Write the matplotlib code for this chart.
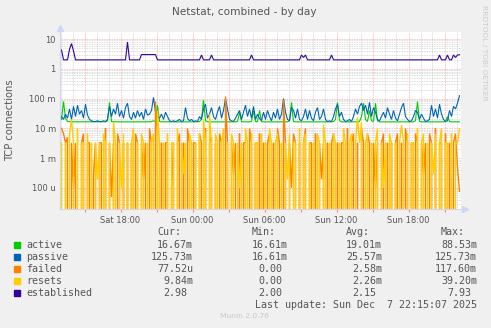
import numpy as np
import pandas as pd
import matplotlib
matplotlib.use("Agg")
from matplotlib import pyplot as plt
import matplotlib.dates as mdates
from matplotlib.ticker import FixedLocator, FixedFormatter, FuncFormatter

# 10 minute samples, values in milli (except established)
t_end = "2025-12-07 22:15"
n_samples = 200

active_m = [
    20, 80, 22, 17, 16.7, 16.6, 16.6, 16.7, 16.6, 16.6, 16.6, 16.7, 16.6, 16.6, 16.6, 16.6, 16.7, 16.6, 16.6, 16.6,
    16.6, 16.6, 16.7, 18, 75, 17, 16.6, 16.6, 16.7, 16.6, 16.6, 16.6, 16.6, 16.7, 16.6, 16.6, 16.6, 16.6, 16.7, 16.6,
    16.6, 16.6, 16.7, 16.6, 16.6, 17, 18, 17, 60, 17, 16.6, 16.6, 16.6, 16.7, 16.6, 16.6, 16.6, 16.6, 16.6, 16.7,
    16.6, 16.6, 16.6, 16.6, 16.7, 16.6, 16.6, 16.6, 16.6, 17, 20, 88.53, 18, 16.6, 16.6, 16.7, 16.6, 16.6, 16.6, 16.6,
    16.6, 16.6, 16.7, 16.6, 16.6, 16.6, 16.6, 16.6, 17, 35, 17, 16.6, 16.6, 16.6, 16.6, 17, 40, 17, 16.6, 40,
    17, 16.6, 16.6, 16.6, 16.7, 16.6, 16.6, 16.6, 16.6, 16.6, 16.6, 16.7, 16.6, 16.6, 18, 75, 17, 16.6, 16.6, 16.6,
    16.6, 16.6, 16.7, 16.6, 16.6, 16.6, 16.6, 16.6, 16.6, 16.7, 16.6, 16.6, 16.6, 16.6, 16.6, 16.6, 17, 20, 75, 18,
    16.6, 16.6, 16.6, 16.7, 16.6, 16.6, 16.6, 16.6, 16.6, 17, 25, 70, 20, 17, 40, 18, 17, 70, 18, 16.6,
    16.6, 16.6, 16.7, 16.6, 16.6, 16.6, 16.6, 16.6, 16.6, 16.6, 16.7, 16.6, 16.6, 16.6, 16.6, 16.6, 16.6, 18, 80, 17,
    16.6, 16.6, 16.6, 16.7, 16.6, 16.6, 16.6, 16.6, 16.6, 16.6, 16.7, 16.6, 17, 25, 17, 16.6, 16.6, 16.6, 16.6, 16.67,
]

passive_m = [
    25, 20, 30, 22, 45, 20, 55, 25, 60, 30, 40, 22, 65, 28, 20, 18, 17, 17, 18, 17,
    17, 18, 17, 20, 55, 25, 45, 30, 70, 25, 40, 22, 50, 70,
    25, 20, 35, 22, 40, 25, 35, 20, 45, 28, 30, 40, 110, 35, 25, 22, 30, 20, 35, 25,
    18, 17, 18, 17, 18, 20, 17, 18, 50, 22, 18, 20, 17,
    18, 17, 25, 20, 45, 65, 22, 30, 50, 25, 20, 35, 55, 22, 40, 100, 45, 20, 18, 17,
    22, 30, 40, 20, 35, 60, 25, 45, 22, 55, 20, 30, 22, 18,
    35, 20, 40, 25, 18, 35, 22, 45, 20, 30, 100, 35, 20, 18, 50, 40, 22, 45, 20, 18,
    25, 45, 20, 40, 22, 18, 35, 50, 20, 25, 45, 20, 17,
    18, 17, 25, 45, 65, 25, 35, 20, 17, 18, 20, 17, 25, 45, 30, 55, 70, 40, 60, 30,
    75, 25, 50, 35, 20, 18, 25, 35, 22, 50, 30, 20, 40, 22,
    18, 30, 50, 70, 25, 20, 17, 18, 25, 40, 35, 20, 30, 22, 17, 18, 20, 60, 25, 45,
    22, 65, 30, 20, 17, 18, 40, 25, 55, 45, 70, 125.73,
]

failed_m = [
    10, 6.7, 3.3, 5, 0, 3.3, 0.1, 3.3, 0, 0, 3.3, 6.7, 0, 3.3, 3.3, 0, 0.3, 3.3, 0, 3.3,
    3.3, 0, 10, 0, 3.3, 0.05, 3.3, 0, 6.7, 3.3, 0, 3.3, 0, 3.3,
    0, 3.3, 0, 6.7, 3.3, 0, 3.3, 0.2, 3.3, 0, 10, 3.3, 0, 80, 6.7, 0, 3.3, 0, 3.3, 3.3,
    0, 0.1, 3.3, 0, 3.3, 6.7, 0, 3.3, 0, 10, 3.3, 0, 3.3,
    3.3, 0, 6.7, 3.3, 0, 10, 0, 3.3, 5, 0, 3.3, 0, 6.7, 3.3, 0, 117.6, 3.3, 0, 3.3, 0.3,
    3.3, 0, 6.7, 0, 3.3, 3.3, 0, 10, 3.3, 0, 3.3, 0, 6.7, 0,
    3.3, 0, 3.3, 6.7, 0, 3.3, 0, 10, 3.3, 0, 90, 3.3, 0, 3.3, 0.1, 6.7, 3.3, 0, 3.3, 0,
    3.3, 10, 0, 3.3, 3.3, 0, 6.7, 0, 3.3, 0.2, 3.3, 0, 3.3,
    0, 3.3, 6.7, 0, 3.3, 0, 3.3, 3.3, 0, 10, 0, 3.3, 6.7, 0, 3.3, 0, 10, 3.3, 0, 6.7,
    3.3, 0, 3.3, 0.1, 3.3, 0, 3.3, 6.7, 0, 3.3, 0, 3.3, 0, 3.3,
    6.7, 0, 3.3, 0, 10, 3.3, 0, 3.3, 0, 6.7, 3.3, 0, 3.3, 0.3, 3.3, 0, 6.7, 3.3, 0, 10,
    0, 3.3, 3.3, 0, 6.7, 0, 3.3, 0, 3.3, 6.7, 0.5, 0.0775,
]

resets_m = [
    3.3, 0, 3.3, 0, 6.7, 20, 3.3, 0, 10, 0, 3.3, 3.3, 0, 6.7, 0, 3.3, 0, 3.3, 0.2, 3.3,
    0, 6.7, 3.3, 0, 3.3, 0, 16, 3.3, 0, 3.3, 0.1, 6.7, 0, 3.3,
    0, 3.3, 10, 0, 3.3, 0, 6.7, 3.3, 0, 3.3, 0, 3.3, 6.7, 0, 39.2, 3.3, 0, 3.3, 0, 6.7,
    0, 3.3, 3.3, 0, 10, 0, 3.3, 0.3, 3.3, 0, 6.7, 3.3, 0,
    3.3, 0, 6.7, 0, 20, 3.3, 0, 30, 3.3, 0, 6.7, 3.3, 0, 3.3, 10, 0, 3.3, 0, 6.7, 3.3,
    0, 3.3, 0.1, 3.3, 0, 10, 3.3, 0, 6.7, 0, 3.3, 3.3, 0, 6.7,
    0, 3.3, 0, 10, 3.3, 0, 3.3, 6.7, 0, 3.3, 0, 3.3, 0.2, 6.7, 0, 3.3, 3.3, 0, 10, 0,
    3.3, 6.7, 0, 3.3, 0, 3.3, 0, 6.7, 3.3, 0, 13, 3.3, 0,
    3.3, 0, 6.7, 3.3, 0, 3.3, 0, 10, 3.3, 0, 3.3, 6.7, 0, 3.3, 23, 3.3, 16, 0, 3.3, 6.7,
    0, 3.3, 0, 3.3, 10, 0, 3.3, 0.1, 3.3, 0, 6.7, 3.3, 0, 3.3,
    0, 3.3, 13, 3.3, 0, 6.7, 0, 3.3, 3.3, 0, 10, 0, 3.3, 6.7, 0, 3.3, 0, 3.3, 0.3, 6.7,
    0, 3.3, 10, 0, 3.3, 3.3, 0, 6.7, 0, 3.3, 3.3, 9.84,
]

established = [
    4.3, 2, 2, 2, 4.5, 7.0, 4.0, 2, 2, 2, 2, 2, 2, 2, 2, 2, 2, 2, 2, 2,
    2, 2, 2, 2, 2, 2, 2, 2, 2, 2, 2, 2, 2, 7.93, 2, 2, 2, 2, 2, 2,
    3, 3, 3, 3, 3, 3, 3, 3, 2, 2, 2, 2, 2, 2, 2, 2, 2, 2, 2, 2,
    2, 2, 2, 2, 2, 2, 2, 2, 2, 2, 2.9, 2, 2, 2, 2, 2.9, 2, 2, 2, 2,
    2, 2, 2, 2, 2, 2, 2, 2, 2, 2, 2, 2, 2, 2, 2, 2.9, 2, 2, 2, 2,
    2, 2, 2, 2, 2, 2, 2, 2, 2, 2, 2, 2, 2, 2, 2, 2, 2, 2, 2, 2,
    2.9, 2.4, 2.9, 2, 2, 2, 2, 2, 2, 2, 2, 2, 2, 2, 2, 2.9, 2, 2, 2, 2,
    2, 2, 2, 2, 2, 2, 2, 2, 2, 2, 2, 2, 2, 2, 2, 2, 2, 2, 2, 2,
    2, 2, 2, 2, 2, 2, 2, 2, 2, 2, 2, 2, 2, 2, 2, 2, 2, 2, 2, 2,
    2, 2, 2, 2, 2, 2, 2, 2, 2, 2.9, 2, 2, 2, 2.9, 2, 2, 2.9, 2.4, 2.9, 2.98,
]

names = ["active", "passive", "failed", "resets", "established"]
colors = ["#00CC00", "#0066B3", "#FF8000", "#FFCC00", "#330099"]
widths = [0.8, 0.8, 1.0, 1.0, 0.8]
cur = ["16.67m", "125.73m", "77.52u", "9.84m", "2.98"]
mins = ["16.61m", "16.61m", "0.00", "0.00", "2.00"]
avgs = ["19.01m", "25.57m", "2.58m", "2.26m", "2.15"]
maxs = ["88.53m", "125.73m", "117.60m", "39.20m", "7.93"]

ytick_vals = [1e-4, 1e-3, 1e-2, 1e-1, 1, 10]
ytick_labels = ["100 u", "1 m", "10 m", "100 m", "1", "10"]

W, H = 491, 328
FONT = "#555555"


def px(x, y):
    return x / W, 1 - y / H


def main():
    times = pd.date_range(end=t_end, periods=n_samples, freq="10min")
    series = [np.array(active_m) * 1e-3, np.array(passive_m) * 1e-3,
              np.array(failed_m) * 1e-3, np.array(resets_m) * 1e-3,
              np.array(established)]

    fig = plt.figure(figsize=(W / 100, H / 100), dpi=100, facecolor="#F0F0F0")
    l, b = px(60, 209)
    ax = fig.add_axes([l, b, 401 / W, 177 / H], facecolor="white")

    for s, c, w in zip(series, colors, widths):
        ax.plot(times, s, color=c, lw=w, solid_joinstyle="miter")

    ax.set_yscale("log", nonpositive="clip")
    ax.set_ylim(1.97e-5, 17.2)
    ax.set_xlim(pd.Timestamp("2025-12-06 12:57:30"), pd.Timestamp("2025-12-07 22:22:30"))

    ax.yaxis.set_major_locator(FixedLocator(ytick_vals))
    ax.yaxis.set_major_formatter(FixedFormatter(ytick_labels))
    ax.yaxis.set_minor_locator(matplotlib.ticker.LogLocator(base=10, subs=np.arange(2, 10)))
    ax.yaxis.set_minor_formatter(matplotlib.ticker.NullFormatter())

    ax.xaxis.set_major_locator(mdates.HourLocator(byhour=range(0, 24, 3)))
    ax.xaxis.set_minor_locator(mdates.HourLocator())

    def xfmt(v, pos):
        d = mdates.num2date(v)
        return d.strftime("%a %H:%M") if d.hour % 6 == 0 else ""
    ax.xaxis.set_major_formatter(FuncFormatter(xfmt))

    ax.grid(which="minor", color="#D0D0D0", ls=(0, (1, 1)), lw=0.6)
    ax.grid(which="major", color="#FF0000", alpha=0.35, ls=(0, (1, 1)), lw=0.6)
    ax.set_axisbelow(True)

    ax.tick_params(which="both", labelsize=6, colors=FONT, length=0, pad=3)
    ax.tick_params(axis="x", which="major", length=2, color="#FF8080")
    for side in ["top", "right"]:
        ax.spines[side].set_visible(False)
    for side in ["left", "bottom"]:
        ax.spines[side].set_color("#CFD6F8")
        ax.spines[side].set_linewidth(0.8)
    ax.plot([0], [1.025], marker="^", ms=4, color="#CFD6F8", transform=ax.transAxes, clip_on=False)
    ax.plot([1.01], [0], marker=">", ms=4, color="#CFD6F8", transform=ax.transAxes, clip_on=False)

    fig.text(*px(244.5, 12), "Netstat, combined - by day", ha="center", va="center",
             fontsize=7.6, color=FONT)
    fig.text(*px(10, 120), "TCP connections", rotation=90, ha="center", va="center",
             fontsize=7.2, color=FONT)
    fig.text(*px(484, 53), "RRDTOOL / TOBI OETIKER", rotation=270, ha="center", va="center",
             fontsize=5.4, color="#CCCCCC")

    mono = dict(family="DejaVu Sans Mono", fontsize=7.2, color=FONT, va="center")
    heads = [("Cur:", 157), ("Min:", 252), ("Avg:", 346), ("Max:", 441)]
    for h, x in heads:
        fig.text(*px(x, 232.3), h, ha="left", **mono)
    col_right = [193, 288, 382, 477]
    for k, name in enumerate(names):
        y = 244.7 + 12 * k
        fig.patches.append(plt.Rectangle(px(14, y + 3), 6 / W, 6 / H, color=colors[k],
                                         transform=fig.transFigure, figure=fig))
        fig.text(*px(26.5, y), name, ha="left", **mono)
        for vals, xr in zip([cur, mins, avgs, maxs], col_right):
            v = vals[k]
            if v[-1].isdigit():
                xr -= 6
            fig.text(*px(xr, y), v, ha="right", **mono)
    fig.text(*px(477, 304.7), "Last update: Sun Dec  7 22:15:07 2025", ha="right", **mono)
    fig.text(*px(245, 315.7), "Munin 2.0.76", ha="center", va="center", fontsize=5.4,
             color="#C8C8C8")

    fig.savefig("out.png", dpi=100, facecolor=fig.get_facecolor())


if __name__ == "__main__":
    main()
